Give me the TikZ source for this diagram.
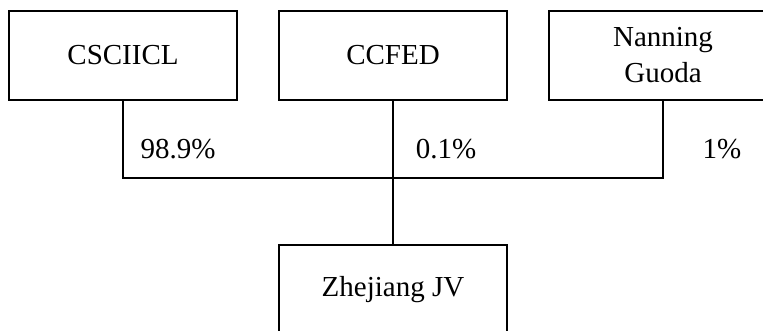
\documentclass[tikz,border=0pt]{standalone}
\usepackage{fontspec}
\setmainfont{Liberation Serif}
\begin{document}
\begin{tikzpicture}[x=1pt,y=-1pt,
  box/.style={draw, line width=1.4pt, rectangle, minimum width=228pt, minimum height=89pt, inner sep=0pt, align=center, font=\fontsize{29}{36}\selectfont},
  lbl/.style={font=\fontsize{29}{36}\selectfont, inner sep=0pt},
  conn/.style={line width=1.4pt}]
\useasboundingbox (0,0) rectangle (763,331);
\node[box] (b1) at (123,55.5) {CSCIICL};
\node[box] (b2) at (393,55.5) {CCFED};
\node[box] (b3) at (663,55.5) {Nanning\\Guoda};
\node[box] (z) at (393,289.5) {Zhejiang JV};
\coordinate (j) at (393,178);
\draw[conn] (b1.south) |- (j) -| (b3.south);
\draw[conn] (b2.south) -- (z.north);
\node[lbl] (p1) at (178,149) {98.9\%};
\node[lbl] (p2) at (446,149) {0.1\%};
\node[lbl] (p3) at (722,149) {1\%};
\end{tikzpicture}
\end{document}
